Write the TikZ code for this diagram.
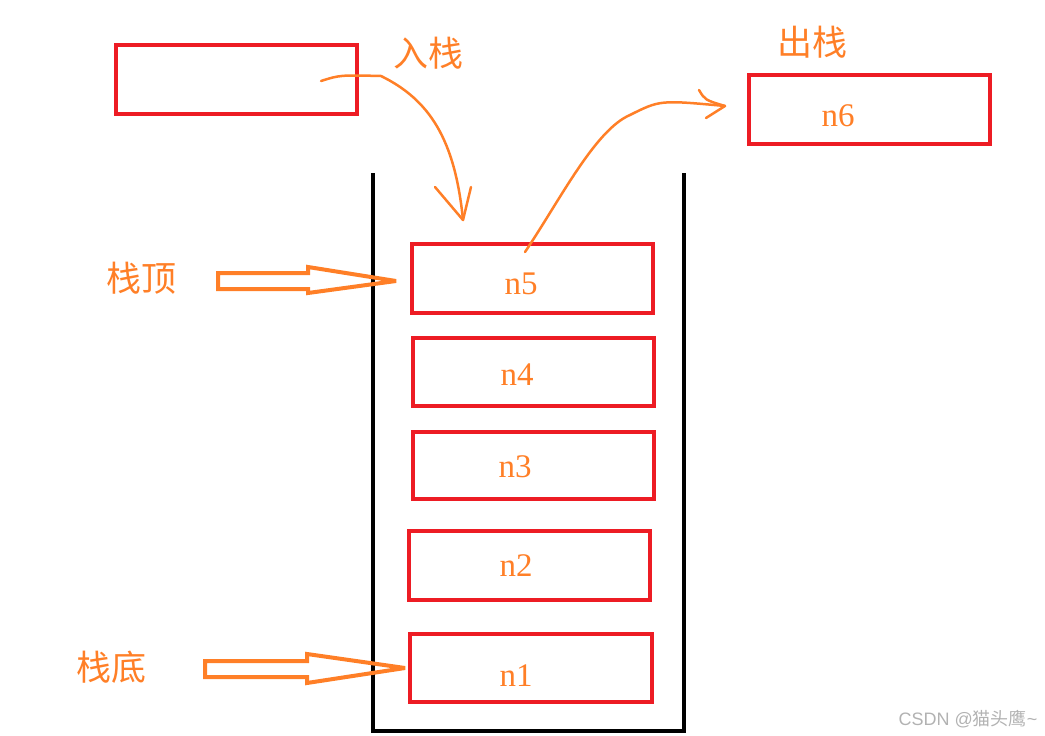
\documentclass[tikz,border=0pt]{standalone}
\usepackage{fontspec}
\setmainfont{Liberation Serif}
\newfontfamily\cjk{Noto Sans CJK SC}
\usetikzlibrary{positioning}
\definecolor{myred}{HTML}{ED1C24}
\definecolor{myorange}{HTML}{FF7F27}
\begin{document}
\begin{tikzpicture}[x=1pt,y=-1pt,
  box/.style={draw=myred,line width=3.5pt},
  lbl/.style={text=myorange,font=\fontsize{33}{35}\selectfont,inner sep=0pt},
  clbl/.style={text=myorange,font=\cjk\fontsize{35}{37}\selectfont,inner sep=0pt},
  stroke/.style={draw=myorange,line width=2.5pt,line cap=round,line join=round},
  hollow/.style={draw=myorange,line width=4pt,line join=miter,miter limit=3}]
\useasboundingbox (0,0) rectangle (1045,736);
% boxes
\draw[box] (116,45) rectangle (357,114);
\draw[box] (749,75) rectangle (990,144);
\draw[box] (412,244) rectangle (653,313);
\draw[box] (413,338) rectangle (654,406);
\draw[box] (413,432) rectangle (654,499);
\draw[box] (409,531) rectangle (650,600);
\draw[box] (410,634) rectangle (652,702);
\node[lbl] (t6) at (838,116) {n6};
\node[lbl] (t5) at (521,284) {n5};
\node[lbl] (t4) at (517,375) {n4};
\node[lbl] (t3) at (515,467) {n3};
\node[lbl] (t2) at (516,566) {n2};
\node[lbl] (t1) at (516,676) {n1};
% container
\draw[black,line width=4pt] (373,173) -- (373,731) -- (684,731) -- (684,173);
% labels
\node[clbl] (push) at (428,53) {入栈};
\node[clbl] (pop) at (812,42) {出栈};
\node[clbl] (top) at (141,278) {栈顶};
\node[clbl] (bot) at (111,667) {栈底};
% hollow arrows
\draw[hollow] (218,273) -- (308,273) -- (308,267) -- (396,281) -- (308,293) -- (308,289) -- (218,289) -- cycle;
\draw[hollow] (205,661) -- (307,661) -- (307,654) -- (405,668) -- (307,683) -- (307,677) -- (205,677) -- cycle;
% push curve
\coordinate (p0) at (321,81);
\coordinate (p1) at (381,76);
\coordinate (p2) at (463,220);
\draw[stroke] (p0) .. controls (340,75) .. (p1) .. controls (430,100) and (455,140) .. (p2);
\draw[stroke] (435,187) -- (p2) -- (471,187);
% pop curve
\coordinate (q0) at (525,252);
\coordinate (q1) at (630,115);
\coordinate (q2) at (725,106);
\draw[stroke] (q0) .. controls (560,200) and (595,130) .. (q1) .. controls (660,100) .. (q2);
\draw[stroke] (699,90) .. controls (705,100) .. (q2) -- (706,118);
% watermark
\node[text=gray!60,font=\fontspec{Liberation Sans}\fontsize{18}{19}\selectfont,inner sep=0pt] (wm) at (968,719) {CSDN @{\cjk 猫头鹰}\textasciitilde};
\end{tikzpicture}
\end{document}
